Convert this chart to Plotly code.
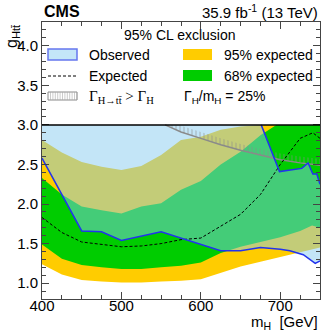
import plotly.graph_objects as go

# Values (m_H in GeV, coupling g_Htt)
G_MAX = 3.0  # upper edge of the scanned region (black line)

MH_95 = [400, 425, 450, 475, 500, 525, 550, 575, 600, 625, 650, 675, 700, 725, 750]
EXP95_LO = [1.24, 1.11, 1.04, 1.02, 1.01, 1.01, 1.02, 1.03, 1.05, 1.13, 1.21, 1.27, 1.33, 1.39, 1.45]
EXP95_HI = [2.81, 2.65, 2.53, 2.47, 2.43, 2.48, 2.62, 2.81, 2.85, 2.94, 2.98, 3.0, 3.0, 3.0, 3.0]

MH_68_LO = [400, 425, 450, 475, 500, 525, 550, 575, 600, 625, 650, 675, 700, 725, 740, 750]
EXP68_LO = [1.49, 1.31, 1.23, 1.20, 1.18, 1.18, 1.20, 1.22, 1.26, 1.38, 1.46, 1.52, 1.58, 1.66, 1.73, 1.70]
MH_68_HI = [400, 425, 450, 475, 500, 525, 550, 575, 600, 625, 650, 675, 695, 725, 750]
EXP68_HI = [2.33, 2.12, 1.97, 1.92, 1.88, 1.97, 2.01, 2.18, 2.29, 2.50, 2.66, 2.87, 3.0, 3.0, 3.0]

MH_EXP = [400, 425, 450, 475, 500, 525, 550, 575, 600, 625, 650, 675, 700, 725, 741, 750]
G_EXP = [1.83, 1.64, 1.52, 1.49, 1.46, 1.47, 1.50, 1.55, 1.57, 1.72, 1.87, 2.12, 2.50, 2.83, 2.90, 2.83]

MH_OBS = [400, 450, 475, 500, 550, 600, 625, 650, 675, 700, 712, 729, 741, 744, 750]
G_OBS = [2.58, 1.66, 1.65, 1.54, 1.65, 1.49, 1.41, 1.41, 1.45, 1.43, 1.41, 1.36, 1.28, 1.25, 1.28]
MH_OBS_UP = [676, 699, 727, 735, 741, 746, 750]
G_OBS_UP = [3.0, 2.41, 2.45, 2.52, 2.38, 2.38, 2.25]

MH_WIDTH = [555, 575, 600, 625, 650, 675, 700, 725, 750]
G_WIDTH = [3.0, 2.91, 2.83, 2.75, 2.68, 2.62, 2.56, 2.52, 2.49]

# colours
YELLOW = "#FFCC00"
GREEN = "#00CC00"
OBS_FILL = "rgba(136,204,240,0.5)"
OBS_LINE = "#2233EE"
HATCH = "#8a8a8a"
FONT = "Liberation Sans, Arial, sans-serif"
SERIF = "Liberation Serif, Times New Roman, serif"

W, H = 324, 335
ML, MR, MT, MB = 42, 4, 22, 36
PW, PH = W - ML - MR, H - MT - MB


def px(x):
    return (x - ML) / PW


def py(y):
    return 1 - (y - MT) / PH


fig = go.Figure()

fig.add_trace(go.Scatter(
    x=MH_95 + MH_95[::-1], y=EXP95_LO + EXP95_HI[::-1],
    fill="toself", fillcolor=YELLOW, line=dict(width=0), mode="lines", hoverinfo="skip"))
fig.add_trace(go.Scatter(
    x=MH_68_LO + MH_68_HI[::-1], y=EXP68_LO + EXP68_HI[::-1],
    fill="toself", fillcolor=GREEN, line=dict(width=0), mode="lines", hoverinfo="skip"))
fig.add_trace(go.Scatter(
    x=MH_OBS + MH_OBS_UP[::-1] + [MH_OBS[0]], y=G_OBS + G_OBS_UP[::-1] + [G_MAX],
    fill="toself", fillcolor=OBS_FILL, line=dict(width=0), mode="lines", hoverinfo="skip"))

# Gamma(H->tt) > Gamma(H): hatched strip above the curve
hatch_top = [min(g + 0.08, G_MAX) for g in G_WIDTH]
fig.add_trace(go.Scatter(
    x=MH_WIDTH + MH_WIDTH[::-1], y=G_WIDTH + hatch_top[::-1],
    fill="toself", fillcolor="rgba(0,0,0,0)", line=dict(width=0), mode="lines",
    fillpattern=dict(shape="|", fgcolor=HATCH, size=4, solidity=0.3), hoverinfo="skip"))
fig.add_trace(go.Scatter(x=MH_WIDTH, y=G_WIDTH, mode="lines",
                         line=dict(color=HATCH, width=1.5), hoverinfo="skip"))

fig.add_trace(go.Scatter(x=MH_EXP, y=G_EXP, mode="lines",
                         line=dict(color="black", width=1, dash="3px,2px")))
fig.add_trace(go.Scatter(x=MH_OBS, y=G_OBS, mode="lines", line=dict(color=OBS_LINE, width=1.5)))
fig.add_trace(go.Scatter(x=MH_OBS_UP, y=G_OBS_UP, mode="lines", line=dict(color=OBS_LINE, width=1.5)))

fig.add_shape(type="line", xref="x domain", yref="y", x0=0, x1=1, y0=G_MAX, y1=G_MAX,
              line=dict(color="black", width=1.5))

# legend, drawn by hand (ROOT style)
def box(x0, x1, y0, y1, **kw):
    fig.add_shape(type="rect", xref="paper", yref="paper",
                  x0=px(x0), x1=px(x1), y0=py(y1), y1=py(y0), **kw)


def label(x, y, text, size=14, family=FONT, anchor="left"):
    fig.add_annotation(xref="paper", yref="paper", x=px(x), y=py(y), text=text,
                       showarrow=False, xanchor=anchor, yanchor="middle",
                       font=dict(family=family, size=size, color="black"))


label(180, 35, "95% CL exclusion", anchor="center")
box(48, 77, 49, 60, fillcolor="#C4E6F8", line=dict(color="#6677EE", width=1.5))
label(87, 55, "Observed")
box(183, 212, 49, 60, fillcolor=YELLOW, line=dict(width=0))
label(222, 55, "95% expected")
fig.add_shape(type="line", xref="paper", yref="paper", x0=px(48), x1=px(77), y0=py(76), y1=py(76),
              line=dict(color="black", width=1, dash="3px,2px"))
label(87, 76, "Expected")
box(183, 212, 70, 81, fillcolor=GREEN, line=dict(width=0))
label(222, 76, "68% expected")
box(48, 77, 92, 100, fillcolor="rgba(0,0,0,0)", line=dict(color=HATCH, width=1))
for i in range(12):
    xh = 50.5 + 2.4 * i
    fig.add_shape(type="line", xref="paper", yref="paper", x0=px(xh), x1=px(xh),
                  y0=py(92), y1=py(100), line=dict(color="#aaaaaa", width=0.6))
label(87, 97, "Γ<sub>H→tt̄</sub> &gt; Γ<sub>H</sub>", family=SERIF, size=15)
label(182, 97, "Γ<sub>H</sub>/m<sub>H</sub> = 25%")

# header and axis titles
label(42, 12, "<b>CMS</b>", size=16)
label(320, 12, "35.9 fb<sup>-1</sup> (13 TeV)", size=15, anchor="right")
label(320, 322, "m<sub>H</sub>  [GeV]", size=15, anchor="right")
fig.add_annotation(xref="paper", yref="paper", x=px(12), y=py(22), text="g<sub>Htt̄</sub>",
                   textangle=-90, showarrow=False, xanchor="center", yanchor="top",
                   font=dict(family=FONT, size=16, color="black"))

axis = dict(showline=True, linecolor="#444", linewidth=1, mirror="allticks",
            ticks="inside", ticklen=7, tickcolor="#444", showgrid=False, zeroline=False,
            tickfont=dict(family=FONT, size=15, color="black"))
fig.update_xaxes(range=[400, 750], dtick=100, tick0=0, ticklabelstandoff=-7,
                 minor=dict(dtick=25, ticklen=4, ticks="inside", tickcolor="#444"), **axis)
fig.update_yaxes(range=[0.8, 4.3], dtick=0.5, tick0=0, tickformat=".1f",
                 minor=dict(dtick=0.1, ticklen=4, ticks="inside", tickcolor="#444"), **axis)

fig.update_layout(width=W, height=H, margin=dict(l=ML, r=MR, t=MT, b=MB),
                  paper_bgcolor="white", plot_bgcolor="white", showlegend=False,
                  font=dict(family=FONT))

# page has a default 8px body margin; drop it so the figure fills the window
fig.write_html("out.html", config={"displayModeBar": False},
               post_script="document.body.style.margin='0';")
